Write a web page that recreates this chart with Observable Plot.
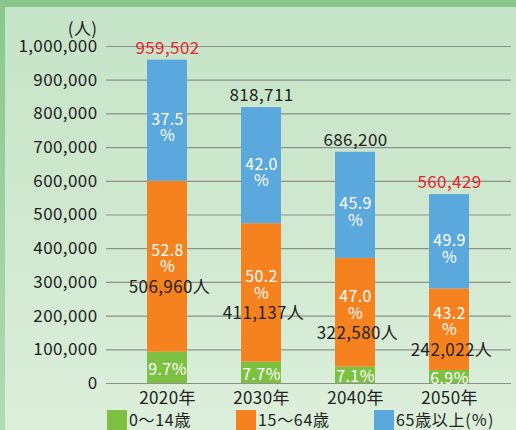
<!DOCTYPE html>
<html><head><meta charset="utf-8">
<script src="https://cdn.jsdelivr.net/npm/d3@7"></script>
<script src="https://cdn.jsdelivr.net/npm/@observablehq/plot@0.6"></script>
<style>
html,body{margin:0;padding:0;}
#wrap{position:relative;width:516px;height:430px;overflow:hidden;
  background:linear-gradient(180deg,#c6e4c7 0%,#cfe8cf 50%,#dcefdb 100%);
  font-family:"Noto Sans CJK JP","Noto Sans",sans-serif;color:#222;}
#topband{position:absolute;left:0;top:0;width:516px;height:7px;background:#87c58a;}
#leftband{position:absolute;left:0;top:0;width:5px;height:430px;background:linear-gradient(180deg,#88c78b,#b3dbb3);}
#chart{position:absolute;left:0;top:0;}
.lg{position:absolute;top:410px;height:20px;display:flex;align-items:flex-start;font-size:16px;letter-spacing:0.7px;}
.sw{width:20px;height:20px;margin-right:2px;}
.lg span{display:block;height:16px;line-height:16px;margin-top:1px;}
</style></head>
<body><div id="wrap"><div id="topband"></div><div id="leftband"></div><div id="chart"></div>
<div class="lg" style="left:107px"><div class="sw" style="background:#7cc142"></div><span>0～14歳</span></div>
<div class="lg" style="left:236px"><div class="sw" style="background:#f5821f"></div><span>15～64歳</span></div>
<div class="lg" style="left:374px"><div class="sw" style="background:#5ba8dd"></div><span>65歳以上(％)</span></div>
</div>
<script>
const years = ["2020年", "2030年", "2040年", "2050年"];
const total = [959502, 818711, 686200, 560429];
const young = [93072, 63041, 48720, 38670];
const working = [506960, 411137, 322580, 242022];
const old = [359470, 344533, 314900, 279737];
const pctYoung = [9.7, 7.7, 7.1, 6.9];
const pctWorking = [52.8, 50.2, 47.0, 43.2];
const pctOld = [37.5, 42.0, 45.9, 49.9];
const groups = ["0～14歳", "15～64歳", "65歳以上"];
const colors = ["#7cc142", "#f5821f", "#5ba8dd"];
const yTicks = [0, 100000, 200000, 300000, 400000, 500000, 600000, 700000, 800000, 900000, 1000000];

const rows = [];
years.forEach((yr, i) => {
  const vals = [young[i], working[i], old[i]];
  const pcts = [pctYoung[i], pctWorking[i], pctOld[i]];
  let acc = 0;
  vals.forEach((v, g) => {
    rows.push({year: yr, group: groups[g], y1: acc, y2: acc + v, mid: acc + v / 2, pct: pcts[g]});
    acc += v;
  });
});
const totals = years.map((yr, i) => ({year: yr, total: total[i],
  red: total[i] === d3.max(total) || total[i] === d3.min(total)}));
const counts = rows.filter(r => r.group === groups[1]).map((r, i) => ({...r, count: working[i]}));
const fmt = d3.format(",");
const font = '"Noto Sans CJK JP","Noto Sans",sans-serif';

const plot = Plot.plot({
  width: 516, height: 410,
  marginLeft: 106, marginRight: 5, marginTop: 46, marginBottom: 27,
  style: {background: "transparent", fontFamily: font, fontSize: "17px", color: "#222", letterSpacing: "0.4px"},
  x: {domain: years, paddingInner: 0.574, paddingOuter: 0.287, insetLeft: 14, insetRight: 15, label: null},
  y: {domain: [0, 1000000], label: null},
  color: {domain: groups, range: colors},
  marks: [
    Plot.ruleY(yTicks, {stroke: "#8f8f8f", strokeWidth: 1.2}),
    Plot.axisY(yTicks, {tickSize: 0, tickPadding: 9, tickFormat: fmt, label: null, fontSize: 17, fill: "#222"}),
    Plot.axisX({tickSize: 0, tickPadding: 8, label: null, fontSize: 17, fill: "#222"}),
    Plot.text(["(人)"], {frameAnchor: "top-left", dx: -9, dy: -24, textAnchor: "end", fontSize: 17, fill: "#222"}),
    Plot.rectY(rows, {x: "year", y1: "y1", y2: "y2", fill: "group"}),
    Plot.text(rows.filter(r => r.group === groups[2]), {x: "year", y: "mid", text: r => r.pct.toFixed(1) + "\n%", dy: 7, lineHeight: 1.05, fill: "white", fontSize: 16}),
    Plot.text(rows.filter(r => r.group === groups[1]), {x: "year", y: "mid", text: r => r.pct.toFixed(1) + "\n%", dy: -8, lineHeight: 1.05, fill: "white", fontSize: 16}),
    Plot.text(rows.filter(r => r.group === groups[0]), {x: "year", y: "mid", text: r => r.pct.toFixed(1) + "%", dy: 2, fill: "white", fontSize: 16}),
    Plot.text(counts, {x: "year", y: "mid", text: r => fmt(r.count) + "人", dy: 21, dx: 2, fill: "#222", fontSize: 17}),
    Plot.text(totals, {x: "year", y: "total", text: d => fmt(d.total), dy: -12, fill: d => d.red ? "#e8242c" : "#222", fontWeight: d => d.red ? "bold" : "normal", fontSize: 17})
  ]
});
document.getElementById("chart").appendChild(plot);
</script></body></html>
